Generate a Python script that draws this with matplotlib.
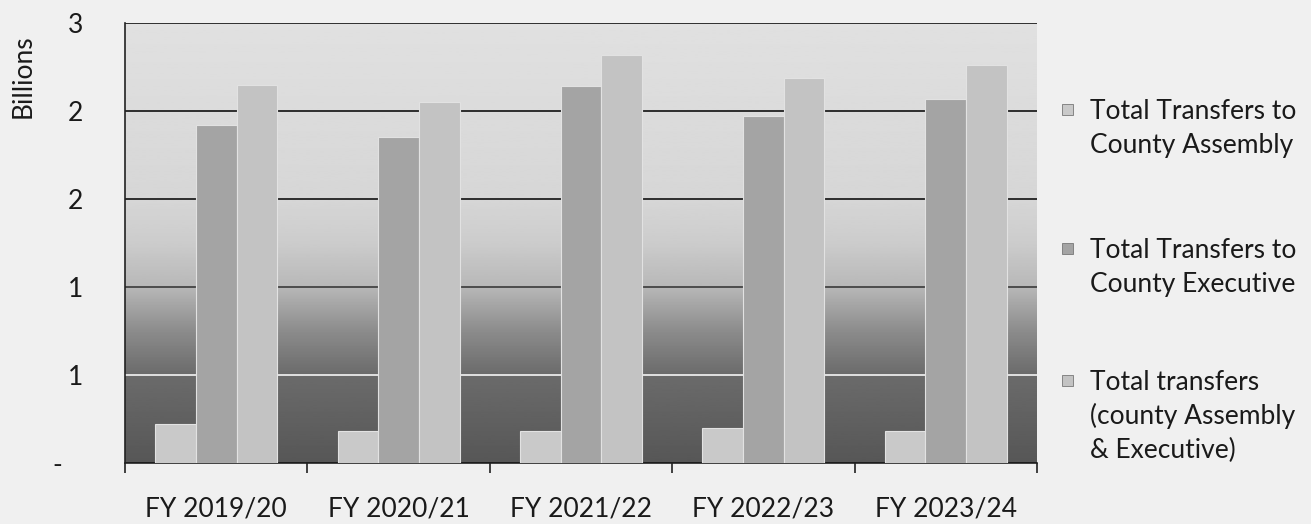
import numpy as np
import matplotlib
matplotlib.use("Agg")
import matplotlib.pyplot as plt
from matplotlib.patches import Rectangle
from matplotlib.ticker import FixedLocator, FuncFormatter

plt.rcParams['font.family'] = ['Lato', 'DejaVu Sans']

years = ["FY 2019/20", "FY 2020/21", "FY 2021/22", "FY 2022/23", "FY 2023/24"]
assembly = [0.22, 0.18, 0.18, 0.20, 0.18]
executive = [1.92, 1.85, 2.14, 1.97, 2.07]
total = [2.15, 2.05, 2.32, 2.19, 2.26]
labels = ["Total Transfers to\nCounty Assembly",
          "Total Transfers to\nCounty Executive",
          "Total transfers\n(county Assembly\n& Executive)"]
colors = ['#c9c9c9', '#a4a4a4', '#c3c3c3']


def tick_fmt(v, pos):
    # excel style: zero shown as a dash, rest rounded half up
    if abs(v) < 1e-9:
        return "-   "
    return str(int(v + 0.5))


fig = plt.figure(figsize=(13.11, 5.24), dpi=100, facecolor='#f0f0f0')
ax = fig.add_axes([125 / 1311, 61 / 524, 912 / 1311, 440 / 524])

# shaded plot area, light at the top and dark near the floor
ys = np.linspace(0, 2.5, 300)
grey = np.interp(ys, [0, 0.5, 0.75, 1.0, 1.25, 1.5, 2.0, 2.5],
                 [0.34, 0.42, 0.55, 0.72, 0.80, 0.84, 0.86, 0.88])
ax.imshow(grey[:, None], cmap='gray', vmin=0, vmax=1, origin='lower',
          extent=[-0.5, 4.5, 0, 2.5], aspect='auto', zorder=0)

x = np.arange(len(years))
w = 0.223
series = [assembly, executive, total]
for i, vals in enumerate(series):
    ax.bar(x + (i - 1) * w, vals, w, color=colors[i], edgecolor='#e2e2e2',
           linewidth=0.8, zorder=3)

ax.set_xlim(-0.5, 4.5)
ax.set_ylim(0, 2.5)
ax.yaxis.set_major_locator(FixedLocator([0, 0.5, 1.0, 1.5, 2.0, 2.5]))
ax.yaxis.set_major_formatter(FuncFormatter(tick_fmt))
ax.grid(axis='y', zorder=1)
grid_cols = ['#000000', '#f4f4f4', '#3a3a3a', '#111111', '#111111', '#111111']
for line, c in zip(ax.yaxis.get_gridlines(), grid_cols):
    line.set_color(c)
    line.set_linewidth(1.2)
ax.set_axisbelow(True)

ax.set_xticks(x)
ax.set_xticklabels(years)
ax.set_xticks(np.arange(-0.5, 5, 1), minor=True)
ax.tick_params(axis='x', which='major', length=0, pad=24, labelsize=19,
               colors='#1a1a1a')
ax.tick_params(axis='x', which='minor', length=7, width=1.2, color='#222222')
ax.tick_params(axis='y', length=0, pad=30, labelsize=19, colors='#1a1a1a')

for s in ['top', 'right']:
    ax.spines[s].set_visible(False)
ax.spines['left'].set_color('#222222')
ax.spines['bottom'].set_color('#222222')
ax.spines['left'].set_linewidth(1.2)
ax.spines['bottom'].set_linewidth(1.2)

ax.set_ylabel("Billions", fontsize=19, color='#1a1a1a', va='center')
ax.yaxis.set_label_coords(-0.112, 0.88)

# legend drawn by hand so the square sits on the first text line
marker_y = [109, 248, 380]
for lab, c, my in zip(labels, colors, marker_y):
    fig.patches.append(Rectangle((1062 / 1311, (524 - my - 6) / 524),
                                 11 / 1311, 11 / 524, transform=fig.transFigure,
                                 facecolor=c, edgecolor='#777777', lw=0.6))
    for k, part in enumerate(lab.split("\n")):
        base = my + 10 + 34 * k
        fig.text(1090 / 1311, (524 - base) / 524, part, fontsize=19,
                 va='baseline', ha='left', color='#1a1a1a')

plt.savefig("out.png", dpi=100, facecolor=fig.get_facecolor())
